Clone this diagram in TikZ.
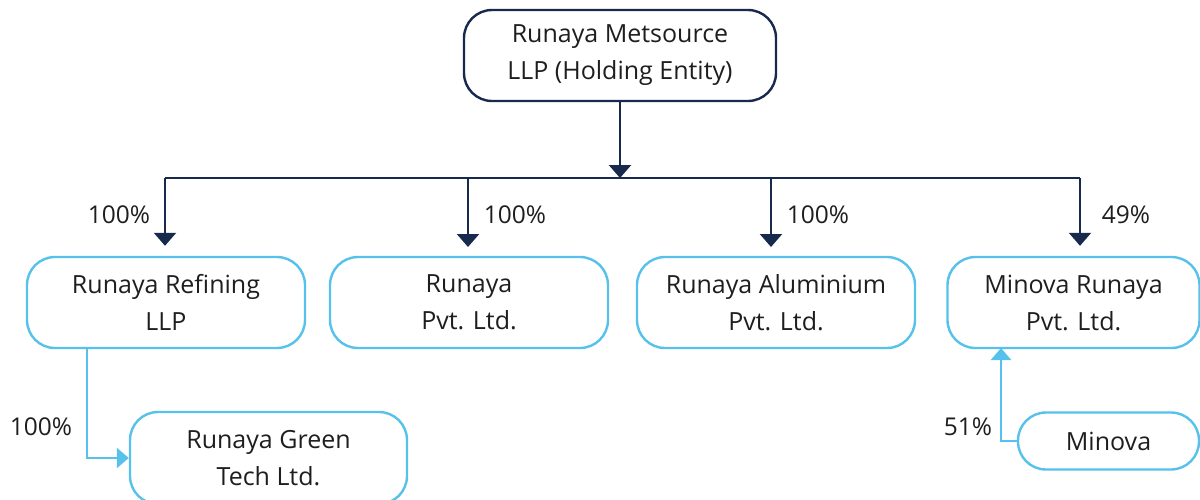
\documentclass[tikz,border=0pt]{standalone}
\usepackage{fontspec}
\setmainfont{Open Sans}
\usetikzlibrary{arrows.meta,calc}
\definecolor{navy}{HTML}{17294D}
\definecolor{sky}{HTML}{56C1EA}
\definecolor{ink}{HTML}{1E1E1E}
\begin{document}
\begin{tikzpicture}[x=1pt,y=-1pt,
  every node/.style={font=\fontsize{25}{37}\selectfont,text=ink},
  topbox/.style={draw=navy,line width=2.4pt,rounded corners=28pt,align=center,minimum width=312pt,minimum height=91pt,inner sep=0pt},
  entbox/.style={draw=sky,line width=2.4pt,rounded corners=28pt,align=center,minimum width=278pt,minimum height=91pt,inner sep=0pt},
  navyarrow/.style={draw=navy,line width=2.4pt,-{Triangle[width=22pt,length=13pt]}},
  navyline/.style={draw=navy,line width=2.4pt},
  skyarrow/.style={draw=sky,line width=2.4pt,-{Triangle[width=20pt,length=12pt]}},
  pct/.style={inner sep=0pt,font=\fontsize{24.5}{30}\selectfont}]
\useasboundingbox (0,0) rectangle (1200,499);
\clip (0,0) rectangle (1200,499);
\node[topbox] (top) at (620,55.5) {Runaya Metsource\\LLP (Holding Entity)};
\node[entbox] (r1) at (166,302.5) {Runaya Refining\\LLP};
\node[entbox] (r2) at (469,302.5) {Runaya\\Pvt. Ltd.};
\node[entbox] (r3) at (776,302.5) {Runaya Aluminium\\Pvt. Ltd.};
\node[entbox,minimum width=252pt] (r4) at (1073.5,302.5) {Minova Runaya\\Pvt. Ltd.};
\node[entbox,minimum width=277pt,minimum height=92pt] (gt) at (268.5,458) {Runaya Green\\Tech Ltd.};
\node[entbox,minimum width=181pt,minimum height=57pt] (mi) at (1108.5,441) {Minova};
\coordinate (busL) at (165,178);
\coordinate (busR) at (1080,178);
\coordinate (busM) at (620,178);
\draw[navyline] (busL) -- (busR);
\draw[navyarrow] (top.south) -- (busM);
\draw[navyarrow,shorten >=10pt] (busL) -- (busL |- r1.north);
\draw[navyarrow,shorten >=10pt] (468,178) -- (468,257);
\draw[navyarrow,shorten >=10pt] (771,178) -- (771,257);
\draw[navyarrow,shorten >=10pt] (busR) -- (busR |- r4.north);
\coordinate (g1) at (87,348);
\draw[skyarrow] (g1) |- (gt.west);
\coordinate (m1) at (1001,348);
\draw[skyarrow] (mi.west) -| (m1);
\node[pct] (p1) at (119,215) {100\%};
\node[pct] (p2) at (515,215) {100\%};
\node[pct] (p3) at (818,215) {100\%};
\node[pct] (p4) at (1126,215) {49\%};
\node[pct] (p5) at (41,427) {100\%};
\node[pct] (p6) at (968,427) {51\%};
\end{tikzpicture}
\end{document}
